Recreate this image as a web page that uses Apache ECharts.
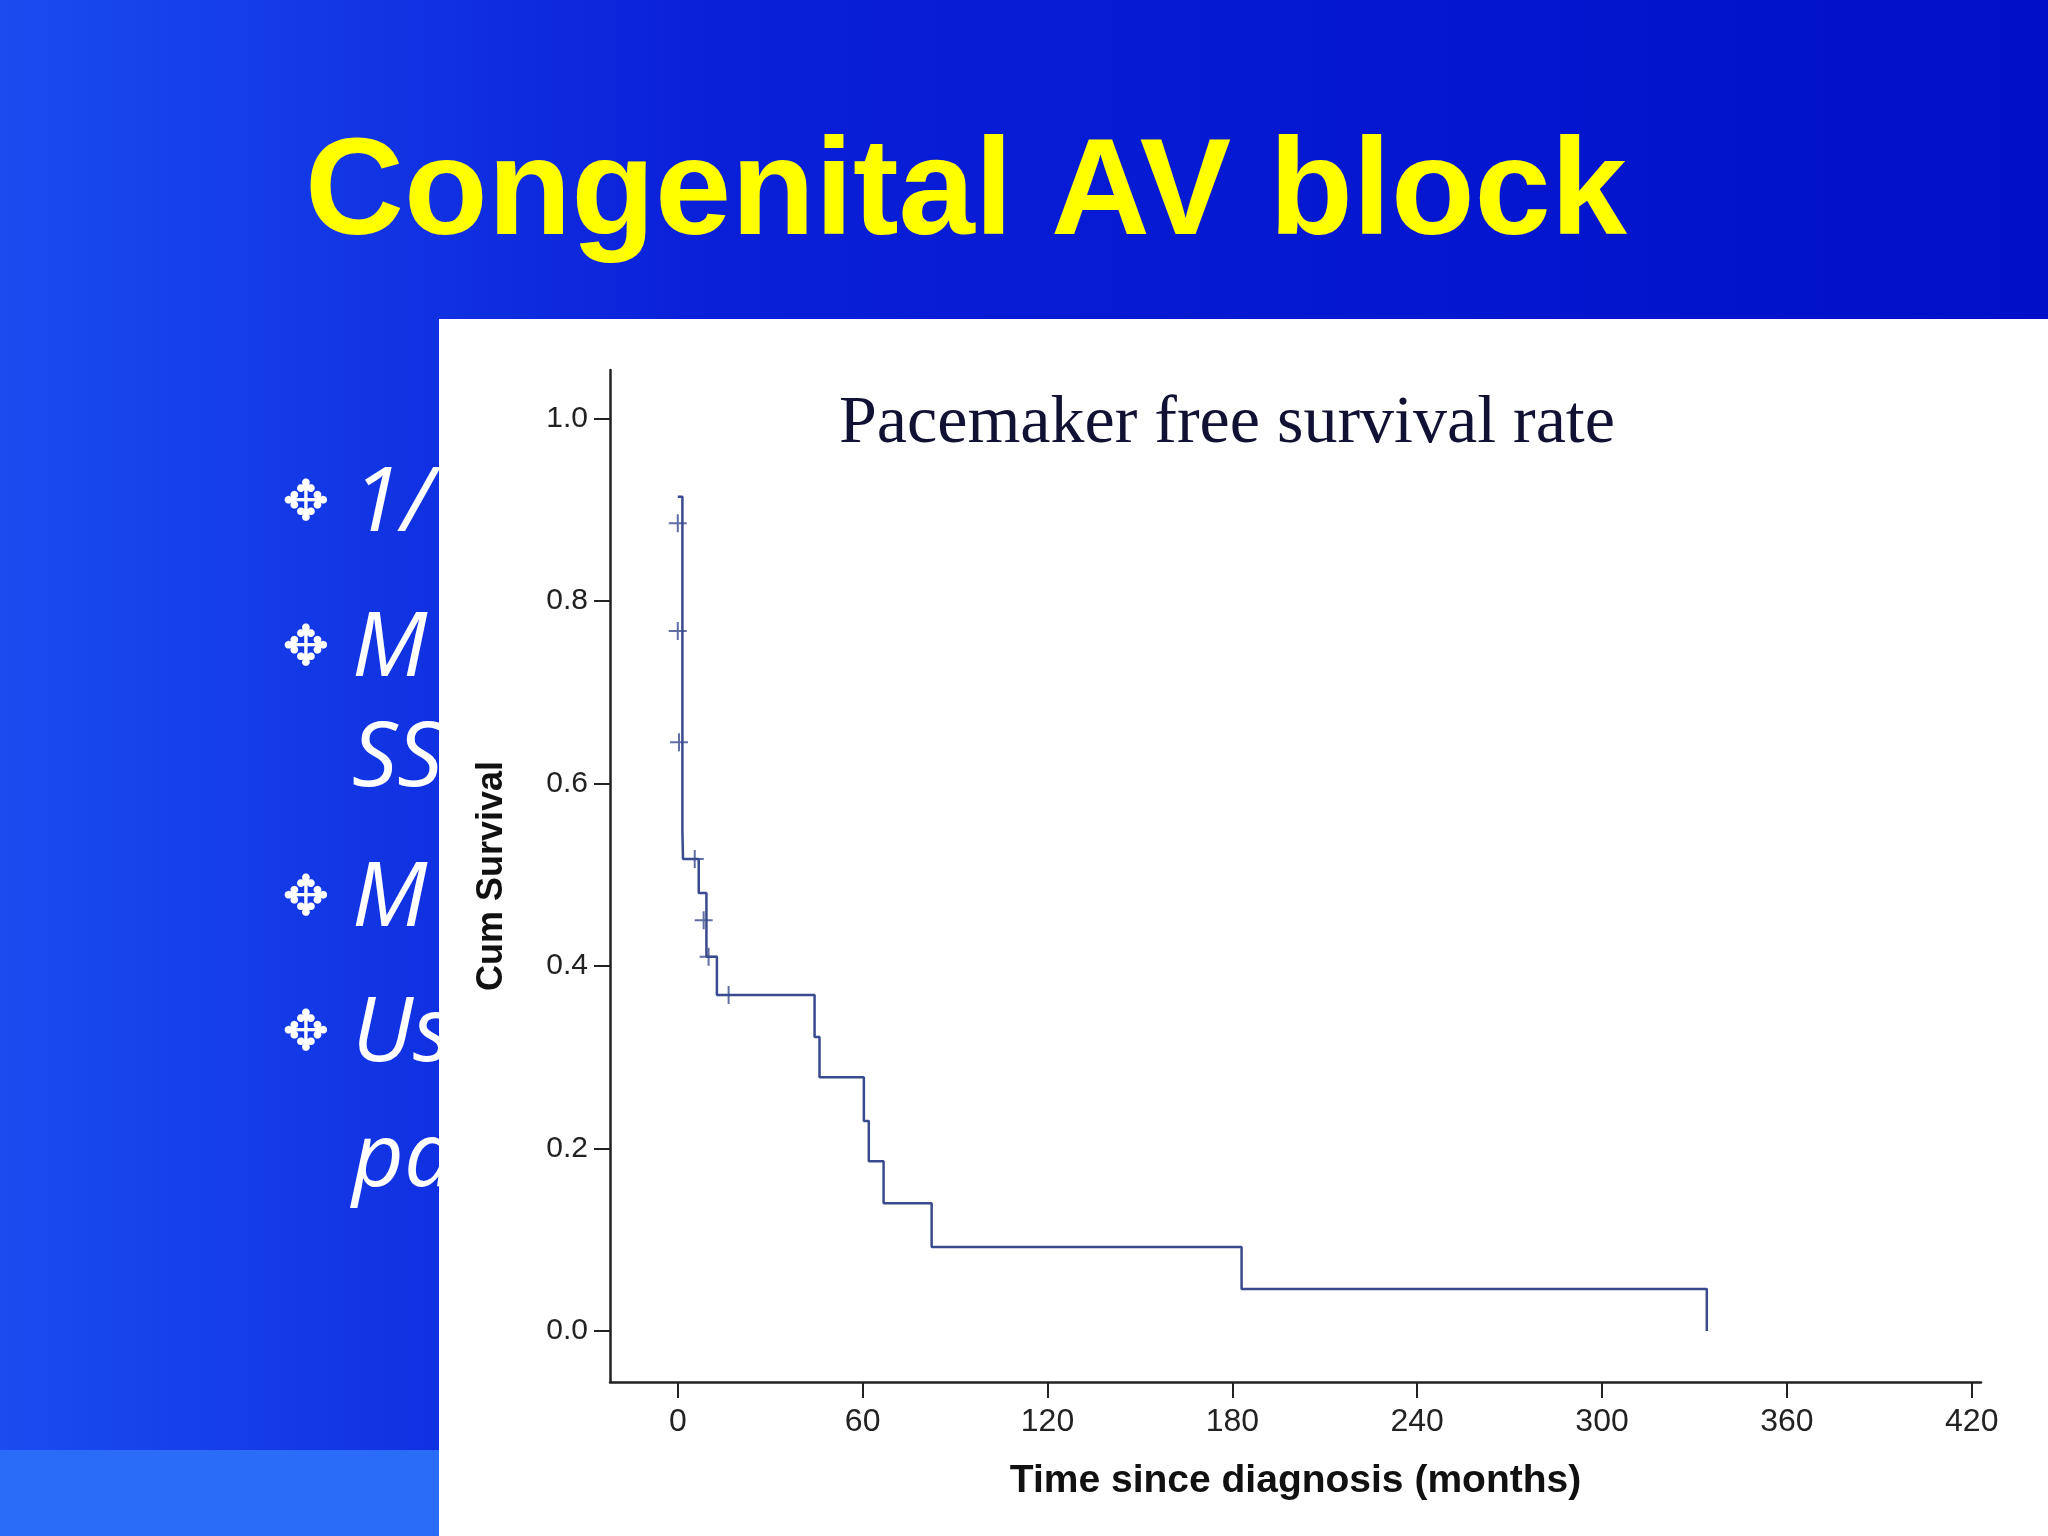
<!DOCTYPE html>
<html><head><meta charset="utf-8">
<script src="https://cdn.jsdelivr.net/npm/echarts@6/dist/echarts.min.js"></script>
<style>html,body{margin:0;padding:0;}#c{width:2048px;height:1536px;}</style>
</head><body><div id="c"></div>
<script>
const stepTimes    = [0, 1.5, 1.7, 6.8, 9.3, 12.7, 44.4, 46, 60.4, 62, 66.8, 82.4, 183, 334, 334];
const stepSurvival = [0.914, 0.548, 0.517, 0.48, 0.41, 0.368, 0.322, 0.278, 0.230, 0.186, 0.140, 0.092, 0.046, 0.046, 0];
const censorTimes    = [0, 0, 0.4, 5.5, 8.4, 10, 16.5];
const censorSurvival = [0.885, 0.767, 0.645, 0.517, 0.45, 0.41, 0.368];
const xTicks = [0, 60, 120, 180, 240, 300, 360, 420];
const yTicks = [0, 0.2, 0.4, 0.6, 0.8, 1.0];
const bullets = ['1/', 'M', 'SS', 'M', 'Us', 'pa'];

const chart = echarts.init(document.getElementById('c'));
const bulletY = [505, 650, 760, 900, 1035, 1160];
const bulletHasIcon = [true, true, false, true, true, false];
const gfx = [
  {type:'rect', z:-10, shape:{x:0,y:0,width:2048,height:1536},
   style:{fill:new echarts.graphic.LinearGradient(0,0,1,0,[{offset:0,color:'#1a4cf0'},{offset:0.35,color:'#0a1fd8'},{offset:1,color:'#0010c8'}])}},
  {type:'rect', z:-9, shape:{x:0,y:1450,width:440,height:86}, style:{fill:'#2a6cf8'}},
  {type:'text', z:-5, style:{text:'Congenital AV block', x:966, y:196, align:'center', verticalAlign:'middle',
    font:'bold 137px "Liberation Sans", Arial, sans-serif', fill:'#ffff00'}}
];
bullets.forEach((b,i)=>{
  if (bulletHasIcon[i]) gfx.push({type:'text', z:-5, style:{text:'✥', x:306, y:bulletY[i], align:'center', verticalAlign:'middle', font:'56px "DejaVu Sans"', fill:'#ffffff'}});
  gfx.push({type:'text', z:-5, style:{text:b, x:352, y:bulletY[i], verticalAlign:'middle', font:'italic 90px "Open Sans", sans-serif', fill:'#ffffff'}});
});
gfx.push({type:'rect', z:-1, shape:{x:439,y:319,width:1609,height:1217}, style:{fill:'#ffffff'}});
gfx.push({type:'text', z:5, style:{text:'Pacemaker free survival rate', x:1227, y:424, align:'center', verticalAlign:'middle',
  font:'68px "Liberation Serif", "Times New Roman", serif', fill:'#111133'}});

chart.setOption({
  animation:false,
  graphic: gfx,
  grid:{left:610, right:67, top:370, bottom:154},
  xAxis:{type:'value', min:-22, max:423, name:'Time since diagnosis (months)', nameLocation:'middle', nameGap:80,
    nameTextStyle:{fontSize:39, fontWeight:'bold', color:'#111', fontFamily:'Liberation Sans'},
    axisLine:{onZero:false, lineStyle:{color:'#222', width:2.5}}, splitLine:{show:false},
    axisTick:{show:true, length:16, customValues:xTicks, lineStyle:{color:'#222', width:2}},
    axisLabel:{customValues:xTicks, fontSize:32, color:'#222', margin:24, fontFamily:'Liberation Sans'}},
  yAxis:{type:'value', min:-0.056, max:1.053, name:'Cum Survival', nameLocation:'middle', nameGap:100,
    nameTextStyle:{fontSize:36, fontWeight:'bold', color:'#111', fontFamily:'Liberation Sans'},
    axisLine:{show:true, onZero:false, lineStyle:{color:'#222', width:2.5}}, splitLine:{show:false},
    axisTick:{show:true, length:16, customValues:yTicks, lineStyle:{color:'#222', width:2}},
    axisLabel:{customValues:yTicks, fontSize:30, color:'#222', margin:22, fontFamily:'Liberation Sans', formatter:v=>v.toFixed(1)}},
  series:[
    {type:'line', step:'end', symbol:'none', data:stepTimes.map((t,i)=>[t,stepSurvival[i]]),
     lineStyle:{color:'#3a4a8e', width:2.5}},
    {type:'scatter', symbol:'path://M0,5L10,5M5,0L5,10', symbolSize:18,
     data:censorTimes.map((t,i)=>[t,censorSurvival[i]]),
     itemStyle:{color:'transparent', borderColor:'#3a4a8e', borderWidth:2}}
  ]
});
</script></body></html>
